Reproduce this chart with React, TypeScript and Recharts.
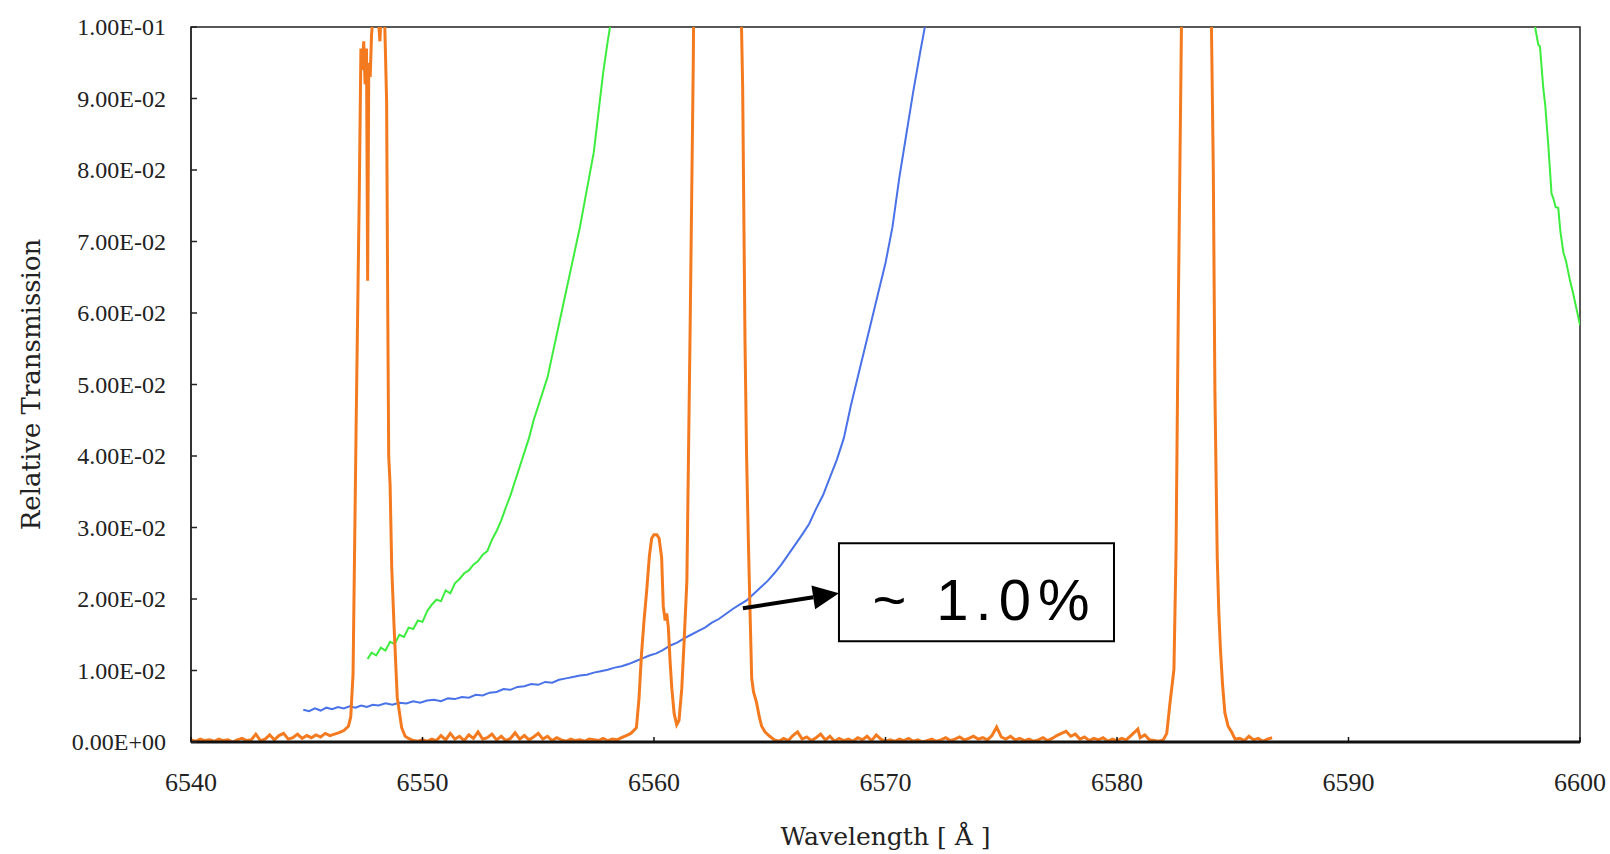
import { LineChart, Line, XAxis, YAxis, ReferenceArea, ReferenceLine } from "recharts"

// wavelength [Å], relative transmission
const orange: [number, number][] = [
  [6540.0, 0.0003], [6540.2, 0.0001], [6540.4, 0.0004], [6540.6, 0.0002], [6540.8, 0.0003],
  [6541.0, 0.0001], [6541.2, 0.0004], [6541.4, 0.0002], [6541.6, 0.0003], [6541.8, 0.0000],
  [6542.0, 0.0003], [6542.2, 0.0005], [6542.4, 0.0002], [6542.6, 0.0003], [6542.8, 0.0011],
  [6543.0, 0.0002], [6543.2, 0.0004], [6543.4, 0.0010], [6543.6, 0.0003], [6543.8, 0.0009],
  [6544.0, 0.0012], [6544.2, 0.0004], [6544.4, 0.0006], [6544.6, 0.0011], [6544.8, 0.0005],
  [6545.0, 0.0009], [6545.2, 0.0006], [6545.4, 0.0010], [6545.6, 0.0007], [6545.8, 0.0012],
  [6546.0, 0.0009], [6546.2, 0.0011], [6546.4, 0.0013], [6546.6, 0.0016], [6546.8, 0.0022],
  [6546.9, 0.0035], [6547.0, 0.0095], [6547.13, 0.0435], [6547.27, 0.077], [6547.34, 0.097],
  [6547.4, 0.094], [6547.46, 0.098], [6547.52, 0.092], [6547.58, 0.097], [6547.63, 0.0645],
  [6547.68, 0.095], [6547.74, 0.093], [6547.8, 0.099], [6547.87, 0.1015], [6548.0, 0.102],
  [6548.1, 0.101], [6548.16, 0.098], [6548.25, 0.105], [6548.35, 0.103], [6548.45, 0.0896],
  [6548.5, 0.06], [6548.54, 0.04], [6548.6, 0.036], [6548.67, 0.0245], [6548.77, 0.0163],
  [6548.91, 0.0062], [6549.1, 0.002], [6549.25, 0.0008], [6549.4, 0.0005], [6549.6, 0.0002],
  [6549.8, 0.0001], [6550.0, 0.0003], [6550.2, 0.0001], [6550.4, 0.0004], [6550.6, 0.0002],
  [6550.8, 0.0009], [6551.0, 0.0003], [6551.2, 0.0012], [6551.4, 0.0004], [6551.6, 0.0008],
  [6551.8, 0.0002], [6552.0, 0.0010], [6552.2, 0.0005], [6552.4, 0.0014], [6552.6, 0.0004],
  [6552.8, 0.0006], [6553.0, 0.0011], [6553.2, 0.0003], [6553.4, 0.0008], [6553.6, 0.0002],
  [6553.8, 0.0005], [6554.0, 0.0013], [6554.2, 0.0004], [6554.4, 0.0009], [6554.6, 0.0003],
  [6554.8, 0.0007], [6555.0, 0.0012], [6555.2, 0.0004], [6555.4, 0.0008], [6555.6, 0.0002],
  [6555.8, 0.0006], [6556.0, 0.0003], [6556.2, 0.0001], [6556.4, 0.0004], [6556.6, 0.0002],
  [6556.8, 0.0003], [6557.0, 0.0001], [6557.2, 0.0004], [6557.4, 0.0003], [6557.6, 0.0002],
  [6557.8, 0.0005], [6558.0, 0.0002], [6558.2, 0.0004], [6558.4, 0.0003], [6558.6, 0.0006],
  [6558.8, 0.0009], [6559.0, 0.0012], [6559.24, 0.002], [6559.35, 0.006], [6559.46, 0.0123],
  [6559.57, 0.017], [6559.68, 0.021], [6559.8, 0.026], [6559.9, 0.0285], [6560.0, 0.029],
  [6560.12, 0.029], [6560.22, 0.0285], [6560.33, 0.0258], [6560.4, 0.019], [6560.48, 0.017],
  [6560.55, 0.018], [6560.62, 0.016], [6560.7, 0.011], [6560.77, 0.0075], [6560.87, 0.004],
  [6560.98, 0.0024], [6561.08, 0.003], [6561.2, 0.0075], [6561.3, 0.014], [6561.42, 0.0225],
  [6561.56, 0.0577], [6561.7, 0.096], [6561.77, 0.13], [6561.9, 0.3], [6562.2, 0.6],
  [6562.8, 0.8], [6563.3, 0.6], [6563.6, 0.2], [6563.72, 0.11], [6563.83, 0.0916],
  [6563.93, 0.0563], [6564.0, 0.04], [6564.07, 0.029], [6564.15, 0.018], [6564.22, 0.0089],
  [6564.3, 0.007], [6564.43, 0.0055], [6564.55, 0.0035], [6564.65, 0.0022], [6564.8, 0.0014],
  [6565.0, 0.0008], [6565.2, 0.0003], [6565.4, 0.0001], [6565.6, 0.0005], [6565.8, 0.0002],
  [6566.0, 0.0009], [6566.2, 0.0014], [6566.4, 0.0004], [6566.6, 0.0007], [6566.8, 0.0002],
  [6567.0, 0.0006], [6567.2, 0.0011], [6567.4, 0.0003], [6567.6, 0.0008], [6567.8, 0.0001],
  [6568.0, 0.0005], [6568.2, 0.0002], [6568.4, 0.0004], [6568.6, 0.0001], [6568.8, 0.0006],
  [6569.0, 0.0003], [6569.2, 0.0008], [6569.4, 0.0002], [6569.6, 0.0010], [6569.8, 0.0004],
  [6570.0, 0.0001], [6570.2, 0.0003], [6570.4, 0.0001], [6570.6, 0.0004], [6570.8, 0.0002],
  [6571.0, 0.0005], [6571.2, 0.0001], [6571.4, 0.0003], [6571.6, 0.0000], [6571.8, 0.0002],
  [6572.0, 0.0004], [6572.2, 0.0001], [6572.4, 0.0003], [6572.6, 0.0006], [6572.8, 0.0002],
  [6573.0, 0.0004], [6573.2, 0.0007], [6573.4, 0.0003], [6573.6, 0.0005], [6573.8, 0.0008],
  [6574.0, 0.0004], [6574.2, 0.0006], [6574.4, 0.0003], [6574.6, 0.0009], [6574.8, 0.0021],
  [6575.0, 0.0007], [6575.2, 0.0004], [6575.4, 0.0008], [6575.6, 0.0003], [6575.8, 0.0005],
  [6576.0, 0.0002], [6576.2, 0.0004], [6576.4, 0.0001], [6576.6, 0.0003], [6576.8, 0.0006],
  [6577.0, 0.0002], [6577.2, 0.0005], [6577.4, 0.0009], [6577.6, 0.0012], [6577.8, 0.0015],
  [6578.0, 0.0008], [6578.2, 0.0011], [6578.4, 0.0004], [6578.6, 0.0007], [6578.8, 0.0002],
  [6579.0, 0.0005], [6579.2, 0.0003], [6579.4, 0.0006], [6579.6, 0.0001], [6579.8, 0.0004],
  [6580.0, 0.0002], [6580.2, 0.0005], [6580.4, 0.0003], [6580.6, 0.0009], [6580.9, 0.0018],
  [6581.0, 0.0006], [6581.2, 0.0010], [6581.4, 0.0003], [6581.6, 0.0002], [6581.8, 0.0001],
  [6582.0, 0.0003], [6582.15, 0.0012], [6582.29, 0.0055], [6582.4, 0.0085], [6582.46, 0.0102],
  [6582.55, 0.0265], [6582.65, 0.061], [6582.75, 0.09], [6582.85, 0.12], [6583.0, 0.4],
  [6583.5, 0.7], [6583.9, 0.3], [6584.04, 0.11], [6584.16, 0.08], [6584.23, 0.0489],
  [6584.33, 0.0258], [6584.4, 0.018], [6584.47, 0.0129], [6584.56, 0.008], [6584.66, 0.0041],
  [6584.8, 0.0022], [6584.95, 0.0014], [6585.1, 0.0004], [6585.3, 0.0005], [6585.5, 0.0002],
  [6585.7, 0.0008], [6585.9, 0.0003], [6586.1, 0.0005], [6586.3, 0.0001], [6586.5, 0.0004],
  [6586.7, 0.0006],
]

const blue: [number, number][] = [
  [6544.85, 0.0045], [6545.1, 0.0043], [6545.35, 0.0047], [6545.6, 0.0044], [6545.85, 0.0048],
  [6546.1, 0.0046], [6546.35, 0.0049], [6546.6, 0.0047], [6546.85, 0.005], [6547.1, 0.0048],
  [6547.35, 0.0051], [6547.6, 0.0049], [6547.85, 0.0052], [6548.1, 0.0051], [6548.4, 0.0054],
  [6548.7, 0.0052], [6549.0, 0.0055], [6549.3, 0.0054], [6549.6, 0.0057], [6549.9, 0.0055],
  [6550.2, 0.0058], [6550.5, 0.0059], [6550.8, 0.0057], [6551.1, 0.0061], [6551.4, 0.006],
  [6551.7, 0.0063], [6552.0, 0.0062], [6552.3, 0.0066], [6552.6, 0.0065], [6552.9, 0.0069],
  [6553.2, 0.007], [6553.5, 0.0074], [6553.8, 0.0073], [6554.1, 0.0077], [6554.4, 0.0078],
  [6554.7, 0.0081], [6555.0, 0.008], [6555.3, 0.0084], [6555.6, 0.0083], [6555.9, 0.0087],
  [6556.2, 0.0089], [6556.5, 0.0091], [6556.8, 0.0093], [6557.1, 0.0094], [6557.4, 0.0097],
  [6557.7, 0.0099], [6558.0, 0.0101], [6558.3, 0.0104], [6558.6, 0.0106], [6558.9, 0.0109],
  [6559.2, 0.0113], [6559.5, 0.0117], [6559.8, 0.0121], [6560.1, 0.0124], [6560.4, 0.0129],
  [6560.7, 0.0135], [6561.0, 0.0139], [6561.3, 0.0145], [6561.6, 0.015], [6561.9, 0.0155],
  [6562.2, 0.016], [6562.5, 0.0167], [6562.8, 0.0172], [6563.1, 0.0179], [6563.4, 0.0186],
  [6563.7, 0.0192], [6564.0, 0.0198], [6564.3, 0.0207], [6564.6, 0.0216], [6564.9, 0.0225],
  [6565.2, 0.0236], [6565.5, 0.0248], [6565.8, 0.0262], [6566.1, 0.0276], [6566.4, 0.029],
  [6566.7, 0.0305], [6567.0, 0.0326], [6567.3, 0.0345], [6567.6, 0.037], [6567.9, 0.0395],
  [6568.2, 0.0425], [6568.5, 0.047], [6568.8, 0.051], [6569.1, 0.055], [6569.4, 0.059],
  [6569.7, 0.063], [6570.0, 0.067], [6570.3, 0.072], [6570.6, 0.079], [6570.9, 0.085],
  [6571.2, 0.091], [6571.5, 0.0965], [6571.7, 0.1], [6572.0, 0.106],
]

const green: [number, number | null][] = [
  [6547.63, 0.0116], [6547.8, 0.0125], [6548.0, 0.0121], [6548.2, 0.0132], [6548.4, 0.0128],
  [6548.6, 0.014], [6548.8, 0.0137], [6549.0, 0.015], [6549.2, 0.0147], [6549.4, 0.016],
  [6549.6, 0.0158], [6549.8, 0.017], [6550.0, 0.0168], [6550.2, 0.0183], [6550.4, 0.0192],
  [6550.6, 0.0199], [6550.8, 0.0197], [6551.0, 0.0212], [6551.2, 0.0208], [6551.4, 0.0222],
  [6551.6, 0.0228], [6551.8, 0.0236], [6552.0, 0.024], [6552.2, 0.0248], [6552.4, 0.0253],
  [6552.6, 0.0262], [6552.8, 0.0267], [6553.0, 0.0283], [6553.2, 0.0295], [6553.4, 0.031],
  [6553.6, 0.0328], [6553.8, 0.0345], [6554.0, 0.0365], [6554.2, 0.0385], [6554.4, 0.0405],
  [6554.6, 0.0425], [6554.8, 0.045], [6555.0, 0.047], [6555.2, 0.049], [6555.4, 0.051],
  [6555.6, 0.054], [6555.8, 0.057], [6556.0, 0.06], [6556.2, 0.063], [6556.4, 0.066],
  [6556.6, 0.069], [6556.8, 0.072], [6557.0, 0.0755], [6557.2, 0.079], [6557.4, 0.0825],
  [6557.6, 0.088], [6557.8, 0.0935], [6558.0, 0.098], [6558.1, 0.1], [6558.3, 0.105],
  [6578.0, null],
  [6597.9, 0.105], [6598.06, 0.1], [6598.2, 0.0975], [6598.27, 0.0973], [6598.41, 0.0916],
  [6598.5, 0.089], [6598.63, 0.0835], [6598.77, 0.0767], [6598.85, 0.076], [6598.95, 0.0748],
  [6599.06, 0.0747], [6599.15, 0.0715], [6599.28, 0.0685], [6599.4, 0.0672], [6599.57, 0.0645],
  [6599.7, 0.0628], [6599.86, 0.0604], [6600.0, 0.0583],
]

const xTicks = [6540, 6550, 6560, 6570, 6580, 6590, 6600]
const yTicks = [0, 0.01, 0.02, 0.03, 0.04, 0.05, 0.06, 0.07, 0.08, 0.09, 0.1]

// arrow from the blue curve to the note box, box corners, note text
const arrowFrom = { x: 6563.84, y: 0.0187 }
const arrowTo = { x: 6567.99, y: 0.0208 }
const noteBox = { x1: 6567.99, x2: 6579.87, y1: 0.0141, y2: 0.0278 }
const noteText = "~ 1.0%"

const toRows = (pts: [number, number | null][]) => pts.map(([x, y]) => ({ x, y }))

function sci(v: number): string {
  if (v === 0) return "0.00E+00"
  const e = Math.floor(Math.log10(Math.abs(v)) + 1e-9)
  const m = v / Math.pow(10, e)
  return `${m.toFixed(2)}E${e < 0 ? "-" : "+"}${String(Math.abs(e)).padStart(2, "0")}`
}

const X_MARGIN = 30
const Y_MARGIN = 25

// tick labels plus small tick marks pointing into the plot
function XTick(props: any) {
  const { x, y, payload } = props
  const axisY = y - X_MARGIN
  return (
    <g>
      <line x1={x} y1={axisY} x2={x} y2={axisY - 5} stroke="#111" strokeWidth={1.5} />
      <text x={x} y={y + 19} textAnchor="middle" fontFamily="Liberation Serif" fontSize={26} fill="#222">
        {payload.value}
      </text>
    </g>
  )
}

function YTick(props: any) {
  const { x, y, payload } = props
  const axisX = x + Y_MARGIN
  return (
    <g>
      <line x1={axisX} y1={y} x2={axisX + 6} y2={y} stroke="#222" strokeWidth={1.5} />
      <text x={x} y={y + 8} textAnchor="end" fontFamily="Liberation Serif" fontSize={24} fill="#222">
        {sci(payload.value)}
      </text>
    </g>
  )
}

function Arrow(props: any) {
  const { x1, y1, x2, y2 } = props
  const a = Math.atan2(y2 - y1, x2 - x1)
  const len = 26
  const half = 12
  const bx = x2 - len * Math.cos(a)
  const by = y2 - len * Math.sin(a)
  const px = -Math.sin(a) * half
  const py = Math.cos(a) * half
  return (
    <g>
      <line x1={x1} y1={y1} x2={bx} y2={by} stroke="#000" strokeWidth={4} />
      <polygon points={`${x2},${y2} ${bx + px},${by + py} ${bx - px},${by - py}`} fill="#000" />
    </g>
  )
}

function NoteLabel(props: any) {
  const vb = props.viewBox
  if (!vb) return null
  return (
    <text
      x={vb.x + vb.width / 2 + 8}
      y={vb.y + vb.height / 2 + 28}
      textAnchor="middle"
      fontFamily="Liberation Sans"
      fontSize={58}
      letterSpacing={7}
      fill="#000"
    >
      {noteText}
    </text>
  )
}

export default function App() {
  return (
    <div style={{ position: "absolute", left: 0, top: 0, width: 1610, height: 854, background: "#fff" }}>
      <LineChart width={1610} height={854} margin={{ top: 27, right: 30, bottom: 0, left: 0 }}>
        <XAxis
          type="number"
          dataKey="x"
          domain={[6540, 6600]}
          ticks={xTicks}
          allowDataOverflow
          height={112}
          tickSize={0}
          tickMargin={X_MARGIN}
          tickLine={false}
          tick={<XTick />}
          axisLine={{ stroke: "#111", strokeWidth: 3 }}
          label={{
            value: "Wavelength [ Å ]",
            position: "insideBottom",
            offset: 9,
            style: { fontFamily: "DejaVu Serif", fontSize: 25, fill: "#222" },
          }}
        />
        <YAxis
          type="number"
          domain={[0, 0.1]}
          ticks={yTicks}
          allowDataOverflow
          width={191}
          tickSize={0}
          tickMargin={Y_MARGIN}
          tickLine={false}
          tick={<YTick />}
          axisLine={{ stroke: "#333", strokeWidth: 2 }}
          label={{
            value: "Relative Transmission",
            angle: -90,
            position: "insideLeft",
            offset: 31,
            style: { textAnchor: "middle", fontFamily: "DejaVu Serif", fontSize: 26, fill: "#222" },
          }}
        />
        <ReferenceArea x1={6540} x2={6600} y1={0} y2={0.1} fill="none" stroke="#222" strokeWidth={1.5} />
        <Line
          data={toRows(green)}
          dataKey="y"
          stroke="#3ded3d"
          strokeWidth={2}
          dot={false}
          isAnimationActive={false}
        />
        <Line
          data={toRows(blue)}
          dataKey="y"
          stroke="#4a72e8"
          strokeWidth={2}
          dot={false}
          isAnimationActive={false}
        />
        <Line
          data={toRows(orange)}
          dataKey="y"
          stroke="#f47a1f"
          strokeWidth={3}
          dot={false}
          isAnimationActive={false}
        />
        <ReferenceLine segment={[arrowFrom, arrowTo]} shape={Arrow} />
        <ReferenceArea
          x1={noteBox.x1}
          x2={noteBox.x2}
          y1={noteBox.y1}
          y2={noteBox.y2}
          fill="#fff"
          fillOpacity={1}
          stroke="#000"
          strokeWidth={2}
          label={<NoteLabel />}
        />
      </LineChart>
    </div>
  )
}
